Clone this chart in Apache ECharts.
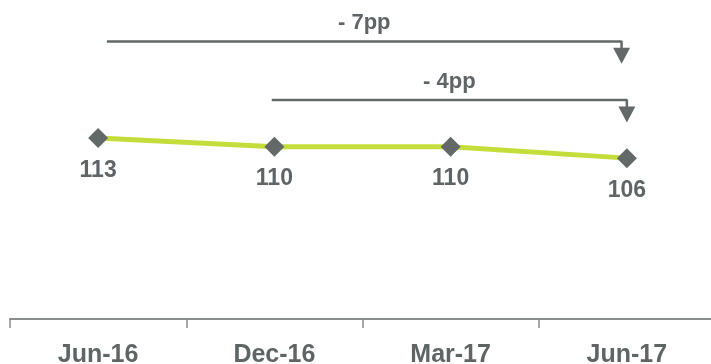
<!DOCTYPE html>
<html>
<head>
<meta charset="utf-8">
<script src="https://cdn.jsdelivr.net/npm/echarts@6/dist/echarts.min.js"></script>
<style>
  html, body { margin: 0; padding: 0; background: #fff; }
  #chart { width: 711px; height: 364px; }
</style>
</head>
<body>
<div id="chart"></div>
<script>
// Index values per period
const categories = ['Jun-16', 'Dec-16', 'Mar-17', 'Jun-17'];
const indexValues = [113, 110, 110, 106];

// Change brackets: label, start period, end period
const changeLabels = ['- 7pp', '- 4pp'];
const changeFrom = [0, 1];
const changeTo = [3, 3];

// Bracket geometry in axis units (x: category index on an overlay value axis, y: chart value)
const bracketLevel = [146.6, 126.2];
const bracketDrop = 2.4;
const arrowOffset = 5.0;
const labelRise = 6.3;
const bracketInset = [[0.05, -0.03], [-0.015, 0]];

const fontStack = '"Liberation Sans", Arial, Helvetica, sans-serif';
const textColor = '#5f6566';
const markColor = '#636869';
const lineColor = '#c5dd3b';

const bracketSeries = [];
changeLabels.forEach((lab, i) => {
  const x0 = changeFrom[i] + bracketInset[i][0];
  const x1 = changeTo[i] + bracketInset[i][1];
  const y = bracketLevel[i];
  bracketSeries.push({
    type: 'line', xAxisIndex: 1, yAxisIndex: 0, symbol: 'none', silent: true,
    lineStyle: { color: markColor, width: 2.5 },
    data: [[x0, y], [x1, y], [x1, y - bracketDrop]]
  });
  bracketSeries.push({
    type: 'scatter', xAxisIndex: 1, yAxisIndex: 0, silent: true,
    symbol: 'triangle', symbolRotate: 180, symbolSize: [17, 16],
    itemStyle: { color: markColor, opacity: 1 },
    data: [[x1, y - arrowOffset]]
  });
  bracketSeries.push({
    type: 'scatter', xAxisIndex: 1, yAxisIndex: 0, silent: true,
    symbolSize: 0,
    itemStyle: { opacity: 1 },
    label: {
      show: true, position: 'inside', formatter: lab, opacity: 1,
      color: textColor, fontFamily: fontStack,
      fontWeight: 'bold', fontSize: 22
    },
    data: [[(x0 + x1) / 2, y + labelRise]]
  });
});

const chart = echarts.init(document.getElementById('chart'), null, { renderer: 'canvas' });
chart.setOption({
  animation: false,
  backgroundColor: '#ffffff',
  grid: { left: 10, top: 3, bottom: 45, width: 705, containLabel: false, outerBoundsMode: 'none' },
  xAxis: [
    {
      type: 'category',
      data: categories,
      boundaryGap: true,
      axisLine: { show: true, lineStyle: { color: '#8a8d8d', width: 2 } },
      axisTick: { show: true, length: 9, lineStyle: { color: '#8a8d8d', width: 1.5 } },
      axisLabel: {
        margin: 24, color: textColor, fontSize: 25, fontWeight: 'bold',
        fontFamily: fontStack
      },
      splitLine: { show: false }
    },
    { type: 'value', min: -0.5, max: 3.5, show: false }
  ],
  yAxis: { type: 'value', min: 50, max: 160, show: false, splitLine: { show: false } },
  series: [
    {
      type: 'line',
      data: indexValues,
      symbol: 'diamond',
      symbolSize: 20,
      lineStyle: { color: lineColor, width: 5 },
      itemStyle: { color: '#636869' },
      label: {
        show: true, position: 'bottom', distance: 11,
        color: textColor, fontSize: 23, fontWeight: 'bold',
        fontFamily: fontStack
      },
      z: 3
    }
  ].concat(bracketSeries)
});
</script>
</body>
</html>
